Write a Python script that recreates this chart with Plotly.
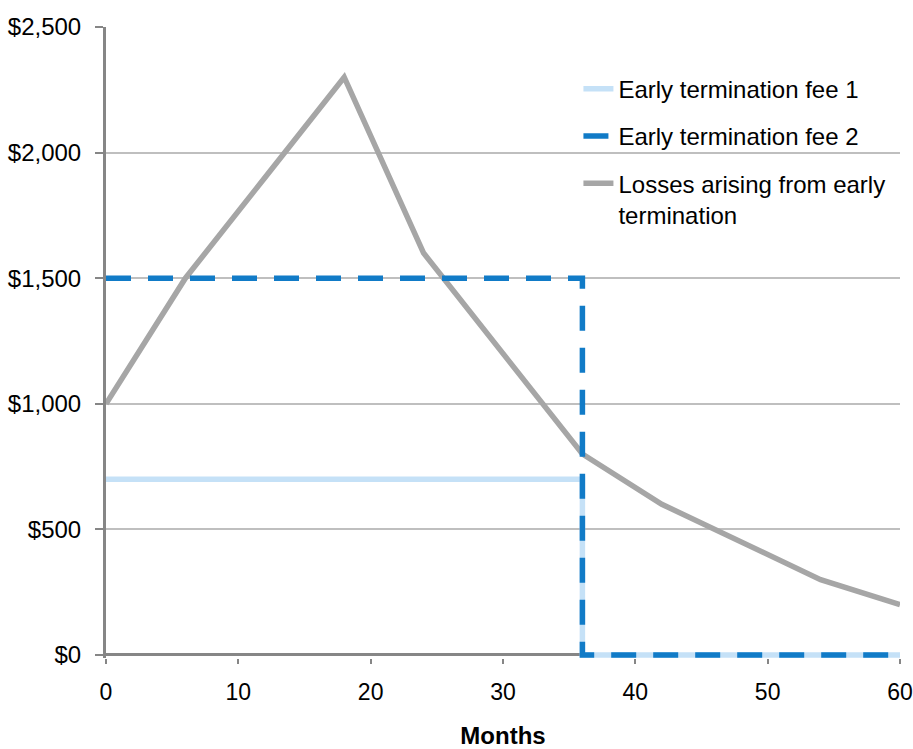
import plotly.graph_objects as go

months_loss = [0, 6, 12, 18, 24, 30, 36, 42, 48, 54, 60]
losses = [1000, 1500, 1900, 2300, 1600, 1200, 800, 600, 450, 300, 200]

months_fee = [0, 36, 36, 60]
fee1 = [700, 700, 0, 0]
fee2 = [1500, 1500, 0, 0]

y_ticks = [0, 500, 1000, 1500, 2000, 2500]
y_labels = ["$0", "$500", "$1,000", "$1,500", "$2,000", "$2,500"]
x_ticks = [0, 10, 20, 30, 40, 50, 60]

FONT = "Liberation Sans, Arial, sans-serif"

fig = go.Figure()
fig.add_trace(go.Scatter(
    x=months_loss, y=losses, mode="lines",
    name="Losses arising from early<br>termination",
    line=dict(color="#A6A6A6", width=5.5),
    legendrank=3, legendgroup="c", cliponaxis=False))
fig.add_trace(go.Scatter(
    x=months_fee, y=fee1, mode="lines", name="Early termination fee 1",
    line=dict(color="#C5E1F7", width=5.5),
    legendrank=1, legendgroup="a", cliponaxis=False))
fig.add_trace(go.Scatter(
    x=months_fee, y=fee2, mode="lines", name="Early termination fee 2",
    line=dict(color="#117BC7", width=5.5, dash="25px,17px"),
    legendrank=2, legendgroup="b", cliponaxis=False))

fig.add_shape(type="rect", xref="paper", yref="paper",
              x0=0.515, x1=1.02, y0=0.68, y1=0.945,
              fillcolor="white", line=dict(width=0), layer="between")

fig.update_layout(
    width=913, height=749,
    margin=dict(l=106, r=13, t=27, b=91),
    paper_bgcolor="white", plot_bgcolor="white",
    font=dict(family=FONT, size=23, color="#000000"),
    showlegend=True,
    legend=dict(x=0.595, y=0.937, xanchor="left", yanchor="top",
                bgcolor="rgba(255,255,255,0)", font=dict(size=24),
                tracegroupgap=13, valign="top", itemwidth=30),
    xaxis=dict(range=[0, 60], tickvals=x_ticks, showgrid=False,
               showline=False,
               ticks="outside", ticklen=5, tickwidth=2, tickcolor="#868686",
               tickfont=dict(size=23), zeroline=False, layer="below traces",
               automargin=False, ticklabelstandoff=8,
               title=dict(text="<b>Months</b>", font=dict(size=24), standoff=40)),
    yaxis=dict(range=[-12, 2500], tickvals=y_ticks, ticktext=y_labels,
               showgrid=True, gridcolor="#BFBFBF", gridwidth=2,
               showline=True, linecolor="#868686", linewidth=3,
               ticks="outside", ticklen=8, tickwidth=2, tickcolor="#868686",
               tickfont=dict(size=24), zeroline=True, zerolinecolor="#868686",
               zerolinewidth=3, layer="below traces",
               automargin=False, ticklabelstandoff=9),
)

fig.write_html("out.html")
